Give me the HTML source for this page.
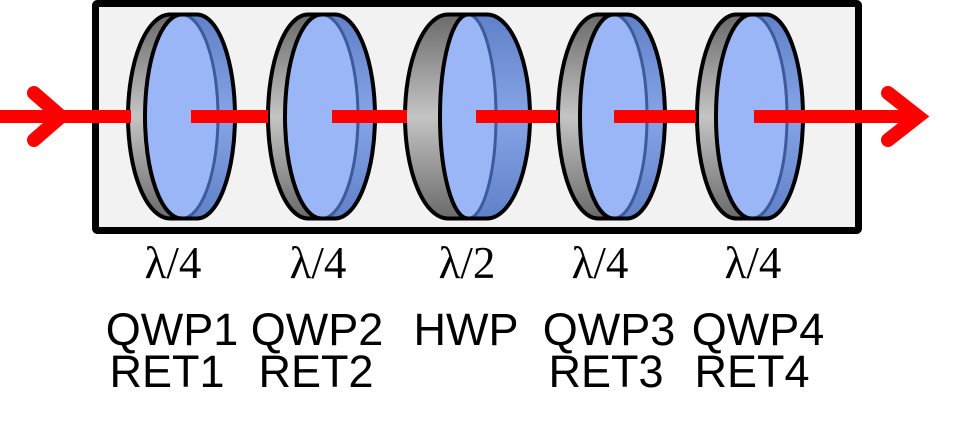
<!DOCTYPE html>
<html><head><meta charset="utf-8"><style>
html,body{margin:0;padding:0;background:#fff;width:975px;height:426px;overflow:hidden}
</style></head><body>
<svg width="975" height="426" viewBox="0 0 975 426" xmlns="http://www.w3.org/2000/svg">
<defs>
<linearGradient id="g" x1="0" y1="0" x2="0" y2="1">
<stop offset="0" stop-color="#6a6a6a"/><stop offset="0.5" stop-color="#c4c4c4"/><stop offset="1" stop-color="#6a6a6a"/>
</linearGradient>
<linearGradient id="b" x1="0" y1="0" x2="0" y2="1">
<stop offset="0" stop-color="#6080c8"/><stop offset="0.5" stop-color="#86a4e6"/><stop offset="1" stop-color="#6080c8"/>
</linearGradient>
</defs>
<rect x="95.5" y="3.5" width="763" height="227" fill="#f2f2f2" stroke="#000" stroke-width="7" rx="2"/>
<g stroke-width="4" stroke-linejoin="round">
<!-- P1: gx170 Rg42, dx197 Rd38, light 181.5 rx36.5 -->
<g>
<path d="M170 14.5 L197 14.5 A38 102 0 0 1 197 218.5 L170 218.5 A42 102 0 0 1 170 14.5 Z" fill="url(#g)"/>
<path d="M181.5 14.5 L197 14.5 A38 102 0 0 1 197 218.5 L181.5 218.5 Z" fill="url(#b)"/>
<ellipse cx="181.5" cy="116.5" rx="36.5" ry="102" fill="#9bb6f7" stroke="#3d5a99" stroke-width="3"/>
<path d="M181.5 14.5 A36.5 102 0 0 0 181.5 218.5" fill="none" stroke="#000"/>
<path d="M170 14.5 L197 14.5 A38 102 0 0 1 197 218.5 L170 218.5 A42 102 0 0 1 170 14.5 Z" fill="none" stroke="#000"/>
</g>
<g>
<path d="M308 14.5 L335 14.5 A40 102 0 0 1 335 218.5 L308 218.5 A40 102 0 0 1 308 14.5 Z" fill="url(#g)"/>
<path d="M321.5 14.5 L335 14.5 A40 102 0 0 1 335 218.5 L321.5 218.5 Z" fill="url(#b)"/>
<ellipse cx="321.5" cy="116.5" rx="36.5" ry="102" fill="#9bb6f7" stroke="#3d5a99" stroke-width="3"/>
<path d="M321.5 14.5 A36.5 102 0 0 0 321.5 218.5" fill="none" stroke="#000"/>
<path d="M308 14.5 L335 14.5 A40 102 0 0 1 335 218.5 L308 218.5 A40 102 0 0 1 308 14.5 Z" fill="none" stroke="#000"/>
</g>
<g>
<path d="M448 14.5 L487 14.5 A43 102 0 0 1 487 218.5 L448 218.5 A43 102 0 0 1 448 14.5 Z" fill="url(#g)"/>
<path d="M468 14.5 L487 14.5 A43 102 0 0 1 487 218.5 L468 218.5 Z" fill="url(#b)"/>
<ellipse cx="468" cy="116.5" rx="28" ry="102" fill="#9bb6f7" stroke="#3d5a99" stroke-width="3"/>
<path d="M468 14.5 A28 102 0 0 0 468 218.5" fill="none" stroke="#000"/>
<path d="M448 14.5 L487 14.5 A43 102 0 0 1 487 218.5 L448 218.5 A43 102 0 0 1 448 14.5 Z" fill="none" stroke="#000"/>
</g>
<g>
<path d="M598 14.5 L627 14.5 A38 102 0 0 1 627 218.5 L598 218.5 A40 102 0 0 1 598 14.5 Z" fill="url(#g)"/>
<path d="M613.5 14.5 L627 14.5 A38 102 0 0 1 627 218.5 L613.5 218.5 Z" fill="url(#b)"/>
<ellipse cx="613.5" cy="116.5" rx="33.5" ry="102" fill="#9bb6f7" stroke="#3d5a99" stroke-width="3"/>
<path d="M613.5 14.5 A33.5 102 0 0 0 613.5 218.5" fill="none" stroke="#000"/>
<path d="M598 14.5 L627 14.5 A38 102 0 0 1 627 218.5 L598 218.5 A40 102 0 0 1 598 14.5 Z" fill="none" stroke="#000"/>
</g>
<g>
<path d="M736 14.5 L766 14.5 A37 102 0 0 1 766 218.5 L736 218.5 A39 102 0 0 1 736 14.5 Z" fill="url(#g)"/>
<path d="M751.5 14.5 L766 14.5 A37 102 0 0 1 766 218.5 L751.5 218.5 Z" fill="url(#b)"/>
<ellipse cx="751.5" cy="116.5" rx="35.5" ry="102" fill="#9bb6f7" stroke="#3d5a99" stroke-width="3"/>
<path d="M751.5 14.5 A35.5 102 0 0 0 751.5 218.5" fill="none" stroke="#000"/>
<path d="M736 14.5 L766 14.5 A37 102 0 0 1 766 218.5 L736 218.5 A39 102 0 0 1 736 14.5 Z" fill="none" stroke="#000"/>
</g>
</g>
<g fill="#ff0000">
<rect x="0" y="110" width="131" height="13"/>
<rect x="191" y="110" width="77" height="13"/>
<rect x="332" y="110" width="75" height="13"/>
<rect x="476" y="110" width="82" height="13"/>
<rect x="614" y="110" width="82" height="13"/>
<rect x="754" y="110" width="166" height="13"/>
</g>
<g fill="none" stroke="#ff0000" stroke-width="14" stroke-linecap="round" stroke-linejoin="miter">
<polyline points="34,93 61,116.5 34,140"/>
<polyline points="888,93 918,116.5 888,140"/>
</g>
<g font-family="'Liberation Serif',serif" font-size="45" text-anchor="middle" fill="#000">
<text x="173" y="278">λ/4</text>
<text x="318" y="278">λ/4</text>
<text x="467" y="278">λ/2</text>
<text x="600" y="278">λ/4</text>
<text x="753" y="278">λ/4</text>
</g>
<g font-family="'Liberation Sans',sans-serif" font-size="45" text-anchor="middle" fill="#000">
<text x="172" y="345">QWP1</text>
<text x="317" y="345">QWP2</text>
<text x="466" y="345">HWP</text>
<text x="609" y="345">QWP3</text>
<text x="758" y="345">QWP4</text>
<text x="167" y="387">RET1</text>
<text x="316" y="387">RET2</text>
<text x="606" y="387">RET3</text>
<text x="752" y="387">RET4</text>
</g>
</svg>
</body></html>
